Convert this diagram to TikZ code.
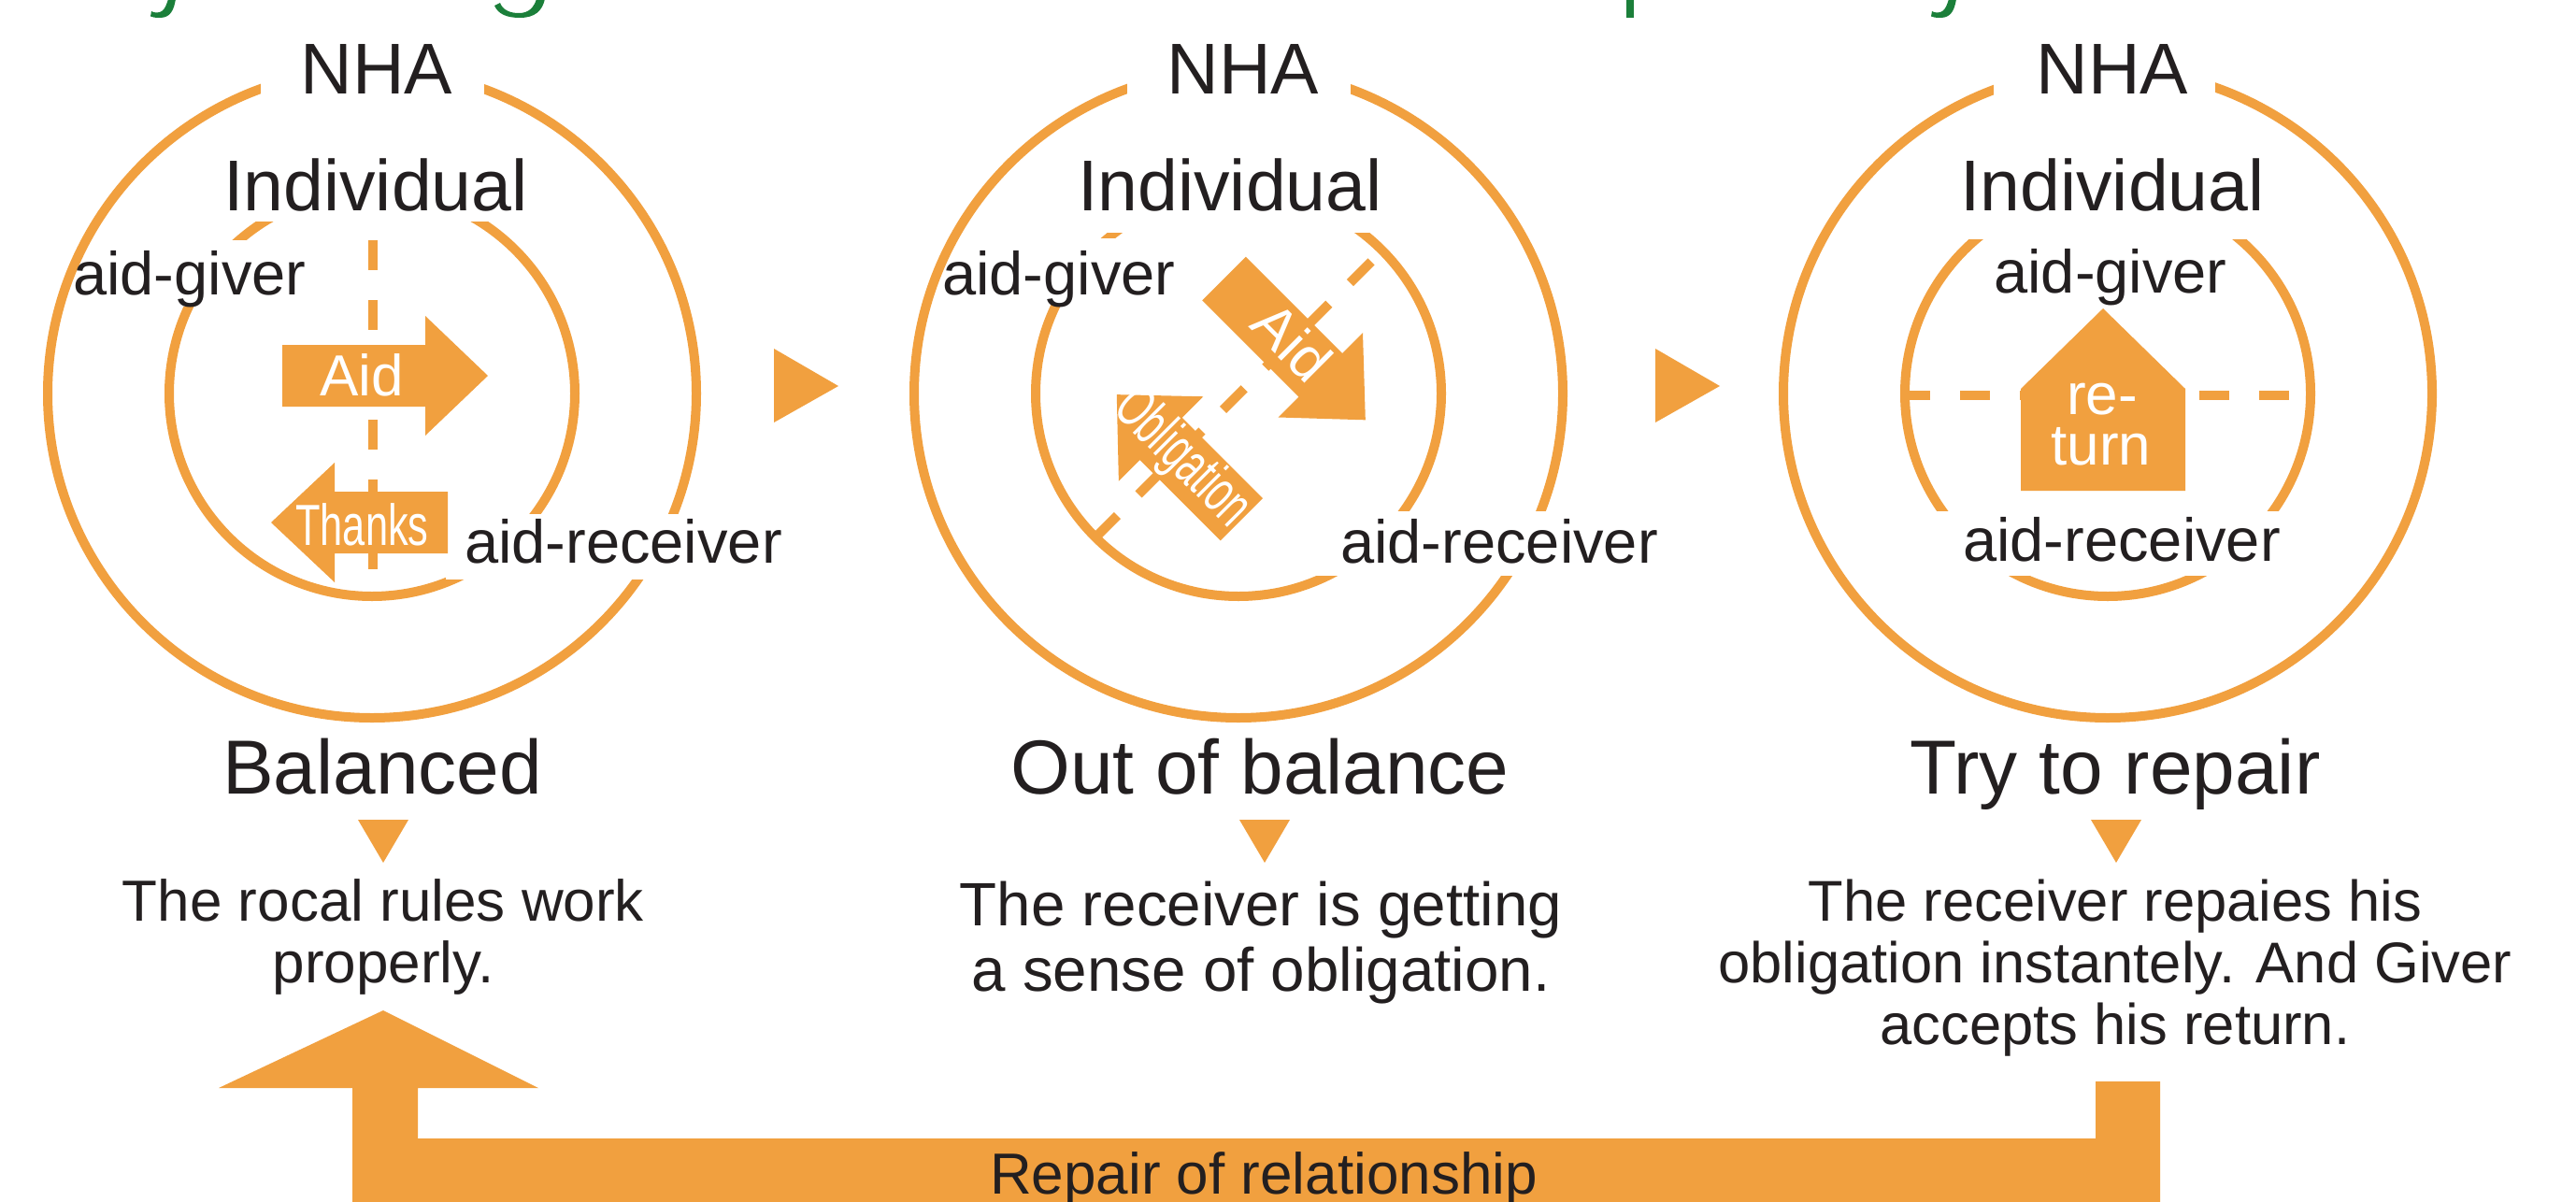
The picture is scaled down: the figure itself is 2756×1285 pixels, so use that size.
\documentclass[tikz,border=0pt]{standalone}
\usepackage{fontspec}
\usepackage{graphicx}
\setmainfont{Liberation Sans}
\definecolor{orng}{HTML}{F1A03F}
\definecolor{ink}{HTML}{231F20}
\definecolor{titlegreen}{HTML}{1B7F3A}
\begin{document}
\begin{tikzpicture}[x=1pt,y=-1pt,
  ringline/.style={draw=orng, line width=10pt},
  knockout/.style={fill=white},
  dashln/.style={draw=orng, line width=10pt, dash pattern=on 32pt off 32pt},
  orngfill/.style={fill=orng},
  greenfrag/.style={fill=titlegreen},
  hdtext/.style={text=ink, inner sep=0pt, font=\fontsize{77pt}{90pt}\selectfont},
  roletext/.style={text=ink, inner sep=0pt, font=\fontsize{65pt}{75pt}\selectfont},
  stagetext/.style={text=ink, inner sep=0pt, font=\fontsize{82pt}{95pt}\selectfont},
  notetext/.style={text=ink, inner sep=0pt, align=center},
  arrowtext/.style={text=white, inner sep=0pt, font=\fontsize{62pt}{54pt}\selectfont},
]
\useasboundingbox (0,0) rectangle (2756,1285);
\fill[white] (0,0) rectangle (2756,1285);

% ---- lower ends of the green title line ----
\fill[greenfrag] (180,-1) -- (188,-1) .. controls (186,10) and (183,19) .. (171,19)
  .. controls (166,19) and (163,18.5) .. (161,17.5) -- (162,12)
  .. controls (165,14) and (170,14) .. (173,12) .. controls (177,9) and (178,5) .. (180,-1) -- cycle;
\fill[greenfrag] (529,6) -- (535,3) .. controls (538,11) and (546,14) .. (555,14)
  .. controls (566,14) and (571,8) .. (574,-1) -- (583,-1)
  .. controls (580,12) and (572,19) .. (556,19) .. controls (542,19) and (533,15) .. (529,6) -- cycle;
\fill[greenfrag] (1740,-1) rectangle (1748,18.5);
\begin{scope}[shift={(1905,0)}]
\fill[greenfrag] (180,-1) -- (188,-1) .. controls (186,10) and (183,19) .. (171,19)
  .. controls (166,19) and (163,18.5) .. (161,17.5) -- (162,12)
  .. controls (165,14) and (170,14) .. (173,12) .. controls (177,9) and (178,5) .. (180,-1) -- cycle;
\end{scope}

% ---- rings: NHA (outer) and individual (inner) ----
\foreach \cx in {398,1325,2255}{
  \draw[ringline] (\cx,421) circle[radius=347pt];
  \draw[ringline] (\cx,421) circle[radius=217pt];
}

% ---- white gaps behind the labels ----
% stage 1
\fill[knockout] (279,40) rectangle (518,112);
\fill[knockout] (230,150) rectangle (570,237);
\fill[knockout] (100,257) rectangle (345,328);
\fill[knockout] (477,550) rectangle (850,620);
% stage 2
\fill[knockout] (1206,40) rectangle (1445,112);
\fill[knockout] (1150,150) rectangle (1500,249);
\fill[knockout] (1030,255) rectangle (1270,325);
\fill[knockout] (1398,547) rectangle (1780,616);
% stage 3
\fill[knockout] (2133,40) rectangle (2370,112);
\fill[knockout] (2070,150) rectangle (2440,256);
\fill[knockout] (2060,547) rectangle (2450,616);

% ---- dashed boundaries between giver and receiver ----
\coordinate (b1a) at (399,257);  \coordinate (b1b) at (399,610);
\coordinate (b2a) at (1467,280); \coordinate (b2b) at (1171,576);
\coordinate (b3a) at (2033,423); \coordinate (b3b) at (2449,423);
\draw[dashln] (b1a) -- (b1b);
\draw[dashln] (b2a) -- (b2b);
\draw[dashln] (b3a) -- (b3b);

% ---- stage 1 arrows ----
\fill[orngfill] (302,369) -- (455,369) -- (455,338) -- (522,402) -- (455,466) -- (455,435) -- (302,435) -- cycle;
\fill[orngfill] (479,526) -- (358,526) -- (358,495) -- (290,559) -- (358,623) -- (358,592) -- (479,592) -- cycle;
\node[arrowtext, anchor=base] (aid1) at (387,423) {Aid};
\node[arrowtext, anchor=base] (thanks1) at (387.5,583) {\scalebox{0.7}[1]{Thanks}};

% ---- stage 2 arrows ----
\begin{scope}[shift={(1309.5,298)}, rotate=-45]
\fill[orngfill] (0,-33) -- (146,-33) -- (146,-64) -- (214,0) -- (146,64) -- (146,33) -- (0,33) -- cycle;
\end{scope}
\begin{scope}[shift={(1328.4,555.8)}, rotate=135]
\fill[orngfill] (0,-32) -- (122,-32) -- (122,-64) -- (189,0) -- (122,64) -- (122,32) -- (0,32) -- cycle;
\end{scope}
\node[arrowtext, rotate=-45] (aid2) at (1383,366) {Aid};
\node[arrowtext, rotate=-45, font=\fontsize{64pt}{54pt}\selectfont] (oblig2) at (1264,491) {\scalebox{0.62}[1]{Obligation}};

% ---- stage 3 return ----
\fill[orngfill] (2162,416) -- (2250,330) -- (2338,416) -- (2338,525) -- (2162,525) -- cycle;
\node[arrowtext, anchor=base] (ret1) at (2249,443) {re-};
\node[arrowtext, anchor=base] (ret2) at (2248,497) {turn};

% ---- ring labels ----
\node[hdtext, anchor=base] (nha1) at (403,100) {NHA};
\node[hdtext, anchor=base] (nha2) at (1330,100) {NHA};
\node[hdtext, anchor=base] (nha3) at (2260,100) {NHA};
\node[hdtext, anchor=base] (ind1) at (402,225) {Individual};
\node[hdtext, anchor=base] (ind2) at (1316,225) {Individual};
\node[hdtext, anchor=base] (ind3) at (2260,225) {Individual};
\node[roletext, anchor=base west] (giv1) at (78,315) {aid-giver};
\node[roletext, anchor=base west] (giv2) at (1008,315) {aid-giver};
\node[roletext, anchor=base] (giv3) at (2258,313) {aid-giver};
\node[roletext, anchor=base west] (rec1) at (497,602) {aid-receiver};
\node[roletext, anchor=base west] (rec2) at (1434,602) {aid-receiver};
\node[roletext, anchor=base] (rec3) at (2270,600) {aid-receiver};

% ---- stage arrows between rings ----
\fill[orngfill] (828,373) -- (897,413) -- (828,452) -- cycle;
\fill[orngfill] (1771,373) -- (1840,413) -- (1771,452) -- cycle;

% ---- stage names ----
\node[stagetext, anchor=base] (st1) at (409,849) {Balanced};
\node[stagetext, anchor=base] (st2) at (1348,849) {Out of balance};
\node[stagetext, anchor=base] (st3) at (2263,849) {Try to repair};

\fill[orngfill] (383,877) -- (437,877) -- (410,923) -- cycle;
\fill[orngfill] (1326,877) -- (1380,877) -- (1353,923) -- cycle;
\fill[orngfill] (2237,877) -- (2291,877) -- (2264,923) -- cycle;

% ---- explanations (base anchor sits on the last line) ----
\node[notetext, anchor=base, font=\fontsize{62pt}{66.7pt}\selectfont] (n1) at (410,1051.7)
  {The rocal rules work\\properly.};
\node[notetext, anchor=base, font=\fontsize{65.5pt}{70pt}\selectfont] (n2) at (1349,1060)
  {The receiver is getting\\a sense of obligation.};
\node[notetext, anchor=base, font=\fontsize{61.5pt}{66pt}\selectfont] (n3) at (2263,1117)
  {The receiver repaies his\\obligation instantely. And Giver\\accepts his return.};

% ---- feedback arrow ----
\fill[orngfill] (377,1300) -- (377,1164) -- (234,1164) -- (410,1081) -- (576,1164) -- (447,1164)
  -- (447,1218) -- (2242,1218) -- (2242,1157) -- (2311,1157) -- (2311,1300) -- cycle;
\node[text=ink, inner sep=0pt, anchor=base, font=\fontsize{62pt}{70pt}\selectfont] (rep) at (1352,1277)
  {Repair of relationship};
\end{tikzpicture}
\end{document}
